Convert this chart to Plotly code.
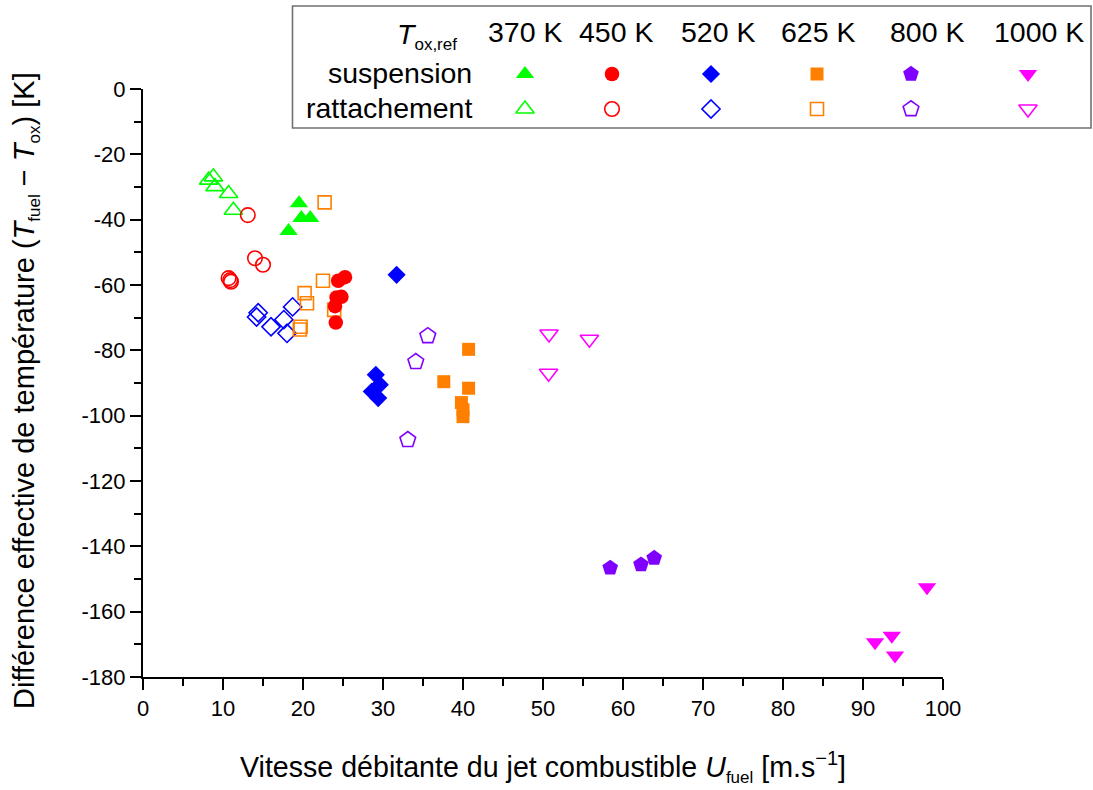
import plotly.graph_objects as go

# ---------------- data ----------------
# 370 K
x370_susp = [19.5, 19.8, 20.9, 18.2]
y370_susp = [-35.0, -39.5, -39.5, -43.5]
x370_ratt = [8.2, 8.8, 9.0, 10.7, 11.3]
y370_ratt = [-27.9, -26.9, -29.9, -32.0, -37.1]
# 450 K
x450_susp = [24.4, 25.25, 24.2, 24.8, 24.0, 24.1]
y450_susp = [-58.7, -57.6, -63.8, -63.6, -66.5, -71.5]
x450_ratt = [13.1, 14.0, 15.0, 10.7, 11.0, 10.9]
y450_ratt = [-38.6, -51.8, -53.8, -57.9, -59.0, -58.5]
# 520 K
x520_susp = [31.7, 29.1, 29.6, 28.6, 29.4]
y520_susp = [-56.9, -87.5, -90.5, -92.6, -94.6]
x520_ratt = [14.4, 14.2, 16.0, 17.6, 18.7, 18.0]
y520_ratt = [-68.5, -69.8, -72.8, -70.6, -66.7, -74.8]
# 625 K
x625_susp = [40.7, 37.6, 40.7, 39.8, 40.0, 40.0]
y625_susp = [-79.7, -89.6, -91.6, -96.0, -98.2, -100.3]
x625_ratt = [22.7, 22.5, 20.2, 20.5, 23.9, 19.7, 19.6]
y625_ratt = [-34.7, -58.7, -62.5, -65.6, -67.6, -72.8, -73.6]
# 800 K
x800_susp = [58.4, 62.25, 63.9]
y800_susp = [-146.6, -145.6, -143.6]
x800_ratt = [35.6, 34.1, 33.1]
y800_ratt = [-75.6, -83.5, -107.4]
# 1000 K
x1000_susp = [98.0, 91.5, 93.6, 94.0]
y1000_susp = [-152.5, -169.4, -167.4, -173.4]
x1000_ratt = [50.75, 50.7, 55.8]
y1000_ratt = [-75.0, -87.0, -76.6]

temperatures = ["370 K", "450 K", "520 K", "625 K", "800 K", "1000 K"]
row_labels = ["suspension", "rattachement"]
x_tickvals = [0, 10, 20, 30, 40, 50, 60, 70, 80, 90, 100]
x_ticktext = ["0", "10", "20", "30", "40", "50", "60", "70", "80", "90", "100"]
y_tickvals = [0, -20, -40, -60, -80, -100, -120, -140, -160, -180]
y_ticktext = ["0", "-20", "-40", "-60", "-80", "-100", "-120", "-140", "-160", "-180"]

# ---------------- styles ----------------
colors = ["#00ff00", "#ff0000", "#0000ff", "#ff8000", "#8000ff", "#ff00ff"]
symbols = ["triangle-up", "circle", "diamond", "square", "pentagon", "triangle-down"]
sizes = [16, 14.5, 14, 13, 16.5, 16]

susp = [(x370_susp, y370_susp), (x450_susp, y450_susp), (x520_susp, y520_susp),
        (x625_susp, y625_susp), (x800_susp, y800_susp), (x1000_susp, y1000_susp)]
ratt = [(x370_ratt, y370_ratt), (x450_ratt, y450_ratt), (x520_ratt, y520_ratt),
        (x625_ratt, y625_ratt), (x800_ratt, y800_ratt), (x1000_ratt, y1000_ratt)]

FONT = "Liberation Sans, Arial, sans-serif"
W, H = 1093, 790
L, R, T, B = 143, 5, 5, 113
PW, PH = W - L - R, H - T - B
X0PX, X1PX, Y0PX, Y1PX = 143, 943, 89, 677   # main plot area in pixels


def sub(s, px):
    return '<sub><span style="font-size:%dpx">%s</span></sub>' % (px, s)


fig = go.Figure()

for i in range(6):
    xs, ys = ratt[i]
    fig.add_trace(go.Scatter(
        x=xs, y=ys, mode="markers", showlegend=False, name=temperatures[i],
        marker=dict(symbol=symbols[i] + "-open", size=sizes[i], color=colors[i],
                    line=dict(width=1.6, color=colors[i]))))
for i in range(6):
    xs, ys = susp[i]
    fig.add_trace(go.Scatter(
        x=xs, y=ys, mode="markers", showlegend=False, name=temperatures[i],
        marker=dict(symbol=symbols[i], size=sizes[i], color=colors[i],
                    line=dict(width=0))))

# ---------------- legend table (overlay axes in pixel units) ----------------
leg_marker_x = [525, 612, 711, 817, 911, 1028]
leg_label_x = [525, 616, 718, 818, 927, 1039]
leg_row_y = [74, 109]
leg_head_y = 32

for i in range(6):
    fig.add_trace(go.Scatter(
        x=[leg_marker_x[i]], y=[leg_row_y[0]], xaxis="x2", yaxis="y2",
        mode="markers", showlegend=False, hoverinfo="skip",
        marker=dict(symbol=symbols[i], size=sizes[i], color=colors[i], line=dict(width=0))))
    fig.add_trace(go.Scatter(
        x=[leg_marker_x[i]], y=[leg_row_y[1]], xaxis="x2", yaxis="y2",
        mode="markers", showlegend=False, hoverinfo="skip",
        marker=dict(symbol=symbols[i] + "-open", size=sizes[i], color=colors[i],
                    line=dict(width=1.6, color=colors[i]))))

LEGF = dict(size=28.5, family=FONT, color="black")
annotations = []
for i in range(6):
    annotations.append(dict(x=leg_label_x[i], y=leg_head_y, xref="x2", yref="y2",
                            text=temperatures[i], showarrow=False, xanchor="center",
                            yanchor="middle", font=LEGF))
for j in range(2):
    annotations.append(dict(x=474, y=leg_row_y[j] - 1, xref="x2", yref="y2",
                            text=row_labels[j], showarrow=False, xanchor="right",
                            yanchor="middle", font=LEGF))
annotations.append(dict(x=459, y=leg_head_y + 4, xref="x2", yref="y2",
                        text="<i>T</i>" + sub("ox,ref", 17), showarrow=False, xanchor="right",
                        yanchor="middle", font=LEGF))

# axis titles
annotations.append(dict(x=(543 - L) / PW, y=(H - B - 767) / PH, xref="paper", yref="paper",
                        text="Vitesse débitante du jet combustible <i>U</i>" + sub("fuel", 17)
                             + " [m.s<sup>−1</sup>]",
                        showarrow=False, xanchor="center", yanchor="middle",
                        font=dict(size=28.6, family=FONT, color="black")))
annotations.append(dict(x=(26 - L) / PW, y=(H - B - 391) / PH, xref="paper", yref="paper",
                        text="Différence effective de température (<i>T</i>" + sub("fuel", 17)
                             + " − <i>T</i>" + sub("ox", 17) + ") [K]",
                        showarrow=False, xanchor="center", yanchor="middle", textangle=-90,
                        font=dict(size=29, family=FONT, color="black")))

shapes = [dict(type="rect", xref="paper", yref="paper",
               x0=(292.5 - L) / PW, x1=(1091 - L) / PW,
               y0=(H - B - 128) / PH, y1=(H - B - 6) / PH,
               line=dict(color="#707070", width=1.6), fillcolor="rgba(0,0,0,0)", layer="above")]

axis_font = dict(size=22, family=FONT, color="black")
fig.update_layout(
    width=W, height=H, autosize=False,
    margin=dict(l=L, r=R, t=T, b=B, autoexpand=False),
    paper_bgcolor="white", plot_bgcolor="rgba(0,0,0,0)",
    showlegend=False,
    xaxis=dict(domain=[0, (X1PX - X0PX) / PW], range=[0, 100], anchor="y", automargin=False,
               tickmode="array", tickvals=x_tickvals, ticktext=x_ticktext,
               ticks="outside", ticklen=11, tickwidth=2, tickcolor="black",
               showline=True, linecolor="black", linewidth=2, mirror=False,
               showgrid=False, zeroline=False, tickfont=axis_font,
               minor=dict(tickmode="array", tickvals=[5, 15, 25, 35, 45, 55, 65, 75, 85, 95],
                          ticks="outside", ticklen=7, tickwidth=2, tickcolor="black",
                          showgrid=False)),
    yaxis=dict(domain=[0, (Y1PX - Y0PX) / PH], range=[-180, 0], anchor="x", automargin=False,
               tickmode="array", tickvals=y_tickvals, ticktext=y_ticktext,
               ticks="outside", ticklen=11, tickwidth=2, tickcolor="black",
               showline=True, linecolor="black", linewidth=2, mirror=False,
               showgrid=False, zeroline=False, tickfont=axis_font,
               minor=dict(tickmode="array", tickvals=[-10, -30, -50, -70, -90, -110, -130, -150, -170],
                          ticks="outside", ticklen=7, tickwidth=2, tickcolor="black",
                          showgrid=False)),
    xaxis2=dict(domain=[0, 1], range=[L, W - R], anchor="y2", visible=False,
                fixedrange=True, automargin=False),
    yaxis2=dict(domain=[0, 1], range=[H - B, T], anchor="x2", visible=False,
                fixedrange=True, automargin=False),
    annotations=annotations,
    shapes=shapes,
)

fig.write_html("out.html",
               config={"responsive": False, "displayModeBar": False},
               post_script="document.body.style.margin='0';document.body.style.padding='0';document.body.style.overflow='hidden';")
